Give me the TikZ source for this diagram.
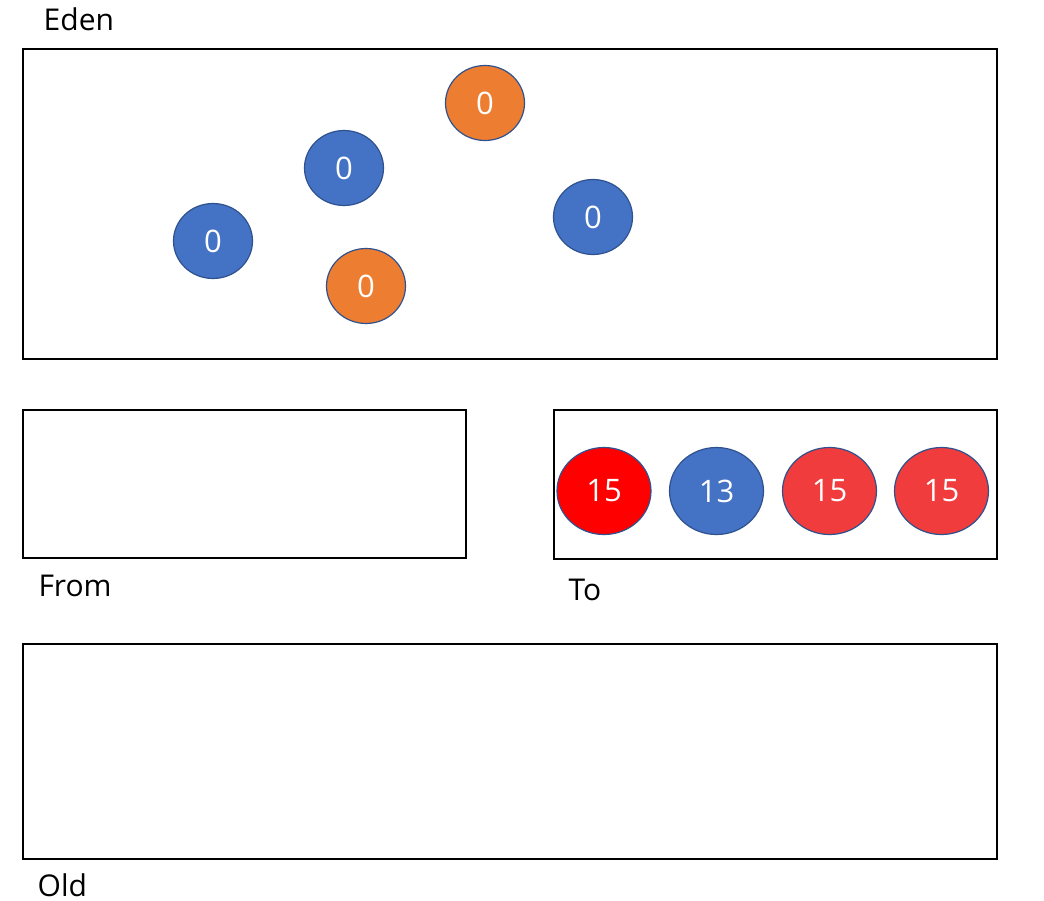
\documentclass[tikz,border=0pt]{standalone}
\usepackage{fontspec}
\setmainfont{Open Sans}
\usetikzlibrary{shapes.geometric}
\definecolor{oblue}{HTML}{4472C4}
\definecolor{oorange}{HTML}{ED7D31}
\definecolor{ored}{HTML}{FF0000}
\definecolor{olred}{HTML}{F03C3C}
\definecolor{oedge}{HTML}{2F528F}
\begin{document}
\begin{tikzpicture}[x=1pt,y=-1pt,
  area/.style={draw=black,line width=1.5pt},
  lbl/.style={anchor=base west,inner sep=0pt,font=\fontsize{30}{34}\selectfont},
  obj/.style={ellipse,draw=oedge,line width=1.2pt,text=white,inner sep=0pt,
    font=\fontsize{31}{34}\selectfont},
  small/.style={obj,minimum width=79pt,minimum height=75pt},
  big/.style={obj,minimum width=94pt,minimum height=87pt}]
\useasboundingbox (0,0) rectangle (1044,900);
\fill[white] (0,0) rectangle (1044,900);
% areas
\draw[area] (23,49) rectangle (997,359);
\draw[area] (23,410) rectangle (466,558);
\draw[area] (554,410) rectangle (997,559);
\draw[area] (23,644) rectangle (997,859);
% labels
\node[lbl] (eden) at (43.5,30.7) {Eden};
\node[lbl] (from) at (38.3,596.7) {From};
\node[lbl] (to) at (568.5,600) {To};
\node[lbl] (old) at (37.5,896.5) {Old};
% eden objects
\node[small,fill=oorange] (e1) at (485,103) {0};
\node[small,fill=oblue] (e2) at (344,168) {0};
\node[small,fill=oblue] (e3) at (213,241) {0};
\node[small,fill=oblue] (e4) at (593,217) {0};
\node[small,fill=oorange] (e5) at (366,286) {0};
% to objects
\node[big,fill=ored] (t1) at (604,491) {15};
\node[big,fill=oblue] (t2) at (716.5,491) {13};
\node[big,fill=olred] (t3) at (829.5,491) {15};
\node[big,fill=olred] (t4) at (941.5,491) {15};
\end{tikzpicture}
\end{document}
